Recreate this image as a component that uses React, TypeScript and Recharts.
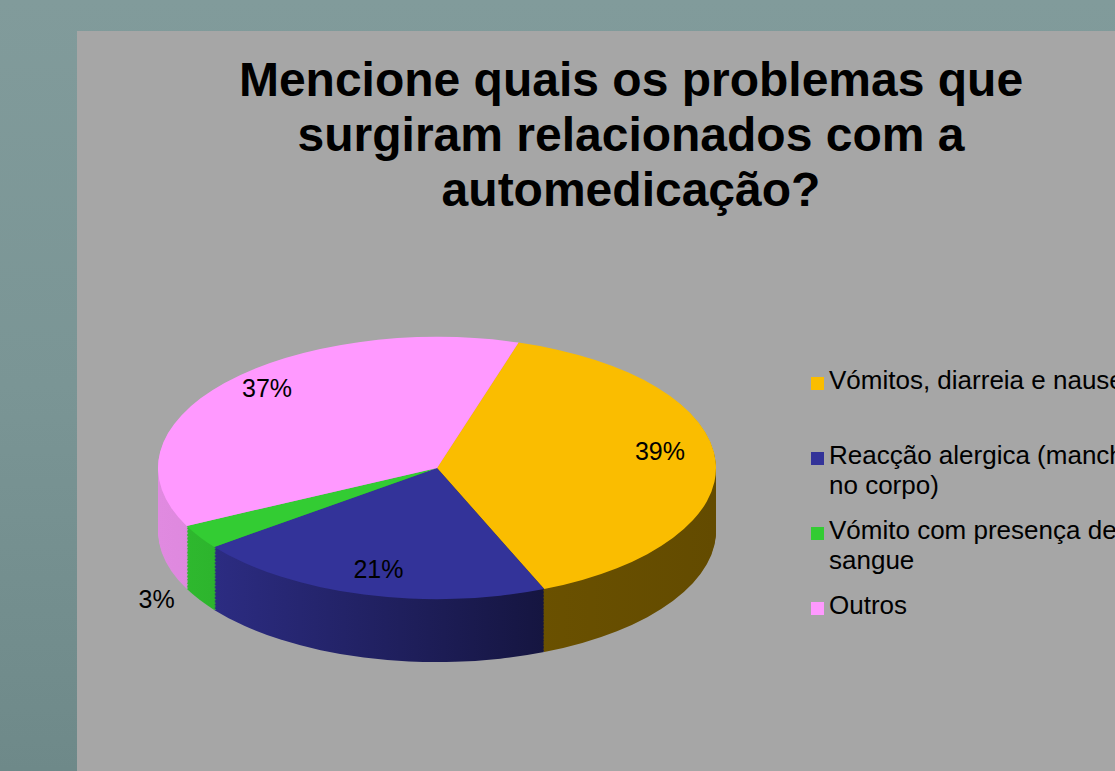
import React from 'react';
import { Cell, Legend, Pie, PieChart } from 'recharts';

const categories = [
  'Vómitos, diarreia e nauseas',
  'Reacção alergica (manchas no corpo)',
  'Vómito com presença de sangue',
  'Outros',
];
const shares = [39, 21, 3, 37];
const labels = ['39%', '21%', '3%', '37%'];

const topColors = ['#FABD00', '#333399', '#33CC33', '#FF99FF'];
const sideFills = ['url(#sideYellow)', 'url(#sideBlue)', 'url(#sideGreen)', 'url(#sidePink)'];

const data = categories.map((name, i) => ({ name, value: shares[i], label: labels[i] }));

// flattening of the pie into an ellipse, and the thickness of the 3D wall
const TILT = 0.47;
const CX = 437;
const CY = 468;
const RADIUS = 279;
const DEPTH = 134;
const STEP = 3;
const wallOffsets = Array.from({ length: Math.floor(DEPTH / STEP) + 1 }, (_, i) => DEPTH - i * STEP);

const RAD = Math.PI / 180;
const FONT = "'Liberation Sans', Arial, sans-serif";

const renderLabel = (props: any) => {
  const { midAngle, index } = props;
  const outside = shares[index] < 10;
  const r = outside ? RADIUS * 1.18 : RADIUS * 0.8;
  const down = Math.sin(-midAngle * RAD);
  const x = CX + r * Math.cos(-midAngle * RAD);
  let y = CY + r * down * TILT;
  // labels on the far half sit a little higher, like the perspective of the original
  y += outside ? DEPTH * TILT * 0.8 : -12 * (1 - Math.max(0, down));
  return (
    <text
      x={x}
      y={y}
      textAnchor="middle"
      dominantBaseline="central"
      fill="#000"
      fontSize={25}
      fontFamily={FONT}
    >
      {data[index].label}
    </text>
  );
};

const renderLegend = () => (
  <div style={{ fontFamily: FONT, fontSize: 26, color: '#000' }}>
    {categories.map((name, i) => (
      <div key={name} style={{ display: 'flex', alignItems: 'flex-start', height: 75 }}>
        <div style={{ width: 13, height: 13, background: topColors[i], marginTop: 9, marginRight: 5, flex: 'none' }} />
        <div style={{ width: 330, lineHeight: '30px', marginTop: -3 }}>{name}</div>
      </div>
    ))}
  </div>
);

const App = () => {
  return (
    <div
      style={{
        position: 'fixed',
        left: 0,
        top: 0,
        width: 1115,
        height: 771,
        overflow: 'hidden',
        background: 'linear-gradient(180deg, #819b9b 0%, #7a9595 50%, #6e8989 100%)',
      }}
    >
      <style>{`.pie-flat { transform: scaleY(${TILT}); transform-origin: ${CX}px ${CY}px; transform-box: view-box; } .pie-flat .pie-flat { transform: none; }`}</style>
      <div style={{ position: 'absolute', left: 77, top: 31, right: 0, bottom: 0, background: '#A6A6A6' }} />
      <div
        style={{
          position: 'absolute',
          left: 131,
          top: 52,
          width: 1000,
          textAlign: 'center',
          fontFamily: FONT,
          fontWeight: 'bold',
          fontSize: 48,
          lineHeight: '55px',
          color: '#000',
        }}
      >
        Mencione quais os problemas que
        <br />
        surgiram relacionados com a
        <br />
        automedicação?
      </div>
      <div style={{ position: 'absolute', left: 0, top: 0 }}>
        <PieChart width={1115} height={771} margin={{ top: 0, right: 0, bottom: 0, left: 0 }}>
          <defs>
            <linearGradient id="sideYellow" x1="0" y1="0" x2="1" y2="0">
              <stop offset="0%" stopColor="#6e5400" />
              <stop offset="100%" stopColor="#634b00" />
            </linearGradient>
            <linearGradient id="sideBlue" x1="0" y1="0" x2="1" y2="0">
              <stop offset="0%" stopColor="#2c2c82" />
              <stop offset="100%" stopColor="#151540" />
            </linearGradient>
            <linearGradient id="sideGreen" x1="0" y1="0" x2="1" y2="0">
              <stop offset="0%" stopColor="#2eb82e" />
              <stop offset="100%" stopColor="#259925" />
            </linearGradient>
            <linearGradient id="sidePink" x1="0" y1="0" x2="1" y2="0">
              <stop offset="0%" stopColor="#e08ae0" />
              <stop offset="100%" stopColor="#cc77cc" />
            </linearGradient>
          </defs>
          {wallOffsets.map((off) => (
            <Pie
              key={`wall-${off}`}
              className="pie-flat"
              data={data}
              dataKey="value"
              nameKey="name"
              cx={CX}
              cy={CY + off}
              outerRadius={RADIUS}
              startAngle={73}
              endAngle={-287}
              stroke="none"
              legendType="none"
              isAnimationActive={false}
            >
              {data.map((d, i) => (
                <Cell key={d.name} fill={sideFills[i]} stroke="none" />
              ))}
            </Pie>
          ))}
          <Pie
            className="pie-flat"
            data={data}
            dataKey="value"
            nameKey="name"
            cx={CX}
            cy={CY}
            outerRadius={RADIUS}
            startAngle={73}
            endAngle={-287}
            stroke="none"
            label={renderLabel}
            labelLine={false}
            isAnimationActive={false}
          >
            {data.map((d, i) => (
              <Cell key={d.name} fill={topColors[i]} stroke="none" />
            ))}
          </Pie>
          <Legend
            content={renderLegend}
            wrapperStyle={{ position: 'absolute', left: 811, top: 368, width: 350, bottom: 'auto', right: 'auto' }}
          />
        </PieChart>
      </div>
    </div>
  );
};

export default App;
